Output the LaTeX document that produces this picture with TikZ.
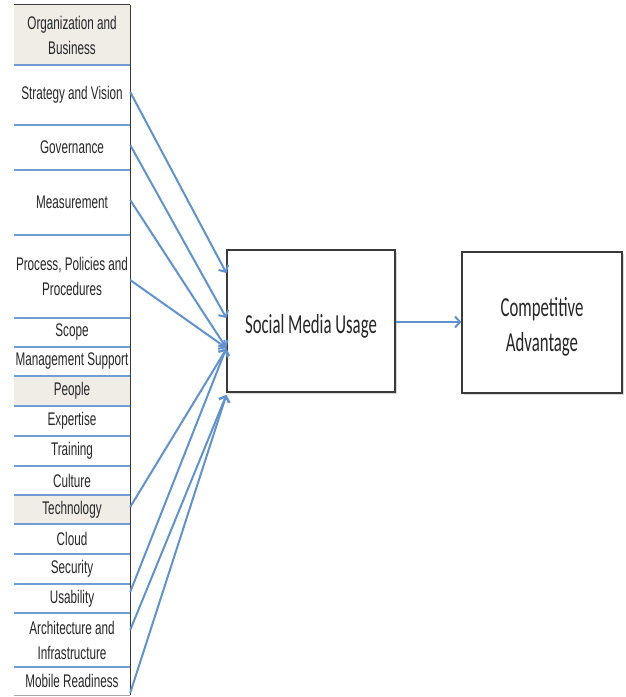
\documentclass[tikz,border=0pt]{standalone}
\usepackage{fontspec}
\newfontfamily\cellfont{Liberation Sans}[FakeStretch=0.64]
\newfontfamily\boxfont{Carlito}[FakeStretch=0.61]
\usetikzlibrary{arrows.meta,shadows}
\definecolor{sepblue}{HTML}{719DD3}
\definecolor{arrblue}{HTML}{6092CF}
\definecolor{headfill}{HTML}{F0EDE7}
\definecolor{txt}{HTML}{262626}
\definecolor{edge}{HTML}{3A3A3A}

\begin{document}
\begin{tikzpicture}[x=1pt,y=-1pt,
  cell/.style={minimum width=116pt, inner sep=0pt, align=center,
    font=\cellfont\fontsize{18.3}{25}\selectfont, text=txt},
  head/.style={cell, fill=headfill},
  sep/.style={draw=sepblue, line width=2.3pt},
  colborder/.style={draw=edge, line width=0.9pt},
  bigbox/.style={draw=edge, line width=1.3pt, fill=white, inner sep=0pt,
    drop shadow={opacity=0.3, shadow xshift=1.5pt, shadow yshift=-2pt}},
  boxtext/.style={align=center, inner sep=0pt, text=txt,
    font=\boxfont\fontsize{27.5}{35}\selectfont},
  arr/.style={draw=arrblue, line width=2pt,
    -{Straight Barb[length=5pt, width=11pt, line width=2pt]}}
]
\useasboundingbox (0,0) rectangle (625,697);

% ---- factor column ----
\node[head, minimum height=60pt] (org)  at (72,35)    {Organization and\\Business};
\node[cell, minimum height=60pt] (strat) at (72,95)   {Strategy and Vision};
\node[cell, minimum height=45pt] (gov)  at (72,147.5) {Governance};
\node[cell, minimum height=65pt] (meas) at (72,202.5) {Measurement};
\node[cell, minimum height=83pt] (proc) at (72,276.5) {Process, Policies and\\Procedures};
\node[cell, minimum height=29pt] (scope) at (72,332.5) {Scope};
\node[cell, minimum height=29pt] (mgmt) at (72,361.5) {Management Support};
\node[head, minimum height=30pt] (people) at (72,391) {People};
\node[cell, minimum height=30pt] (exp)  at (72,421)   {Expertise};
\node[cell, minimum height=30pt] (train) at (72,451)  {Training};
\node[cell, minimum height=29pt] (cult) at (72,480.5) {Culture};
\node[head, minimum height=29pt] (tech) at (72,509.5) {Technology};
\node[cell, minimum height=30pt] (cloud) at (72,539)  {Cloud};
\node[cell, minimum height=30pt] (sec)  at (72,569)   {Security};
\node[cell, minimum height=29pt] (usab) at (72,598.5) {Usability};
\node[cell, minimum height=54pt] (arch) at (72,640)   {Architecture and\\Infrastructure};
\node[cell, minimum height=28pt] (mob)  at (72,681)   {Mobile Readiness};

% row separators
\foreach \r in {org,strat,gov,meas,proc,scope,mgmt,people,exp,train,cult,tech,cloud,sec,usab,arch}
  \draw[sep] (\r.south west) -- (\r.south east);

% column frame
\draw[colborder] (org.north west) -- (org.north east);
\draw[colborder] (org.north east) -- (mob.south east);
\draw[draw=gray!70, line width=0.9pt] (mob.south west) -- (mob.south east);

% ---- outcome boxes ----
\node[bigbox, minimum width=168pt, minimum height=142pt] (smu) at (311,321) {};
\node[boxtext] (smutext) at (311,326) {Social Media Usage};
\node[bigbox, minimum width=160pt, minimum height=141pt] (ca) at (542,322.5) {};
\node[boxtext] (catext) at (542,327) {Competitive\\Advantage};

% ---- connectors ----
\draw[arr] ([yshift=3pt]strat.east)   -- ([yshift=48pt]smu.west);
\draw[arr] ([yshift=2.5pt]gov.east)   -- ([yshift=3pt]smu.west);
\draw[arr] ([yshift=2.5pt]meas.east)  -- ([yshift=-27pt]smu.west);
\draw[arr] ([yshift=-3.5pt]proc.east) -- ([yshift=-27pt]smu.west);
\draw[arr] ([yshift=2.5pt]tech.east)  -- ([yshift=-28pt]smu.west);
\draw[arr] ([yshift=6.5pt]usab.east)  -- ([yshift=-27pt]smu.west);
\draw[arr] ([yshift=10pt]arch.east)   -- ([yshift=-74pt]smu.west);
\draw[arr] ([yshift=-12pt]mob.east)   -- ([yshift=-74pt]smu.west);
\draw[arr] ([yshift=-1pt]smu.east)    -- ([yshift=-1pt]smu.east -| ca.west);
\end{tikzpicture}
\end{document}
